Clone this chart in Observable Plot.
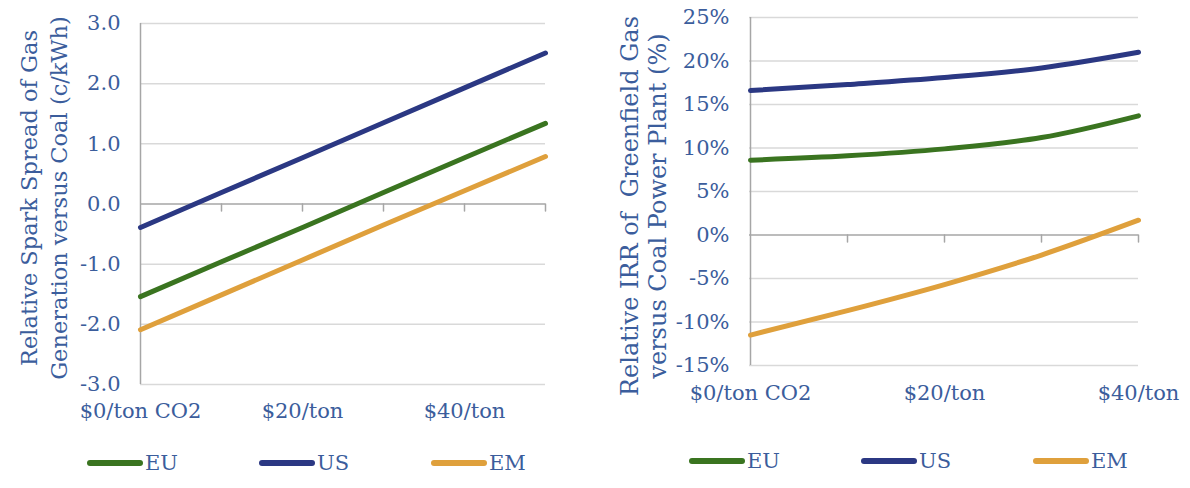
<!DOCTYPE html>
<html>
<head>
<meta charset="utf-8">
<script src="https://cdn.jsdelivr.net/npm/d3@7"></script>
<script src="https://cdn.jsdelivr.net/npm/@observablehq/plot@0.6"></script>
<style>
  html, body { margin: 0; padding: 0; background: #fff; }
  #wrap { position: relative; width: 1190px; height: 488px; font-family: "DejaVu Serif", serif; color: #3b5d9c; }
  .panel { position: absolute; top: 0; }
  .legend { position: absolute; display: flex; font-size: 21px; color: #3b5d9c; }
  .legend .item { display: flex; align-items: center; width: 172px; }
  .legend svg { margin-right: 1px; }
</style>
</head>
<body>
<div id="wrap"></div>
<script>
// Carbon price categories ($/ton CO2)
const sparkPrices = [0, 10, 20, 30, 40, 50];
const irrPrices = [0, 10, 20, 30, 40];

// Relative spark spread of gas vs coal (c/kWh)
const sparkEU = [-1.54, -0.96, -0.39, 0.19, 0.77, 1.34];
const sparkUS = [-0.39, 0.19, 0.77, 1.35, 1.93, 2.51];
const sparkEM = [-2.09, -1.51, -0.93, -0.35, 0.22, 0.79];

// Relative IRR of greenfield gas vs coal power plant (%)
const irrEU = [8.6, 9.1, 9.9, 11.2, 13.7];
const irrUS = [16.6, 17.3, 18.1, 19.2, 21.0];
const irrEM = [-11.5, -8.7, -5.7, -2.3, 1.7];

const seriesNames = ["EU", "US", "EM"];
const seriesColors = ["#3a7420", "#2b3883", "#dfa03c"];

const sparkTicks = [-3, -2, -1, 0, 1, 2, 3];
const irrTicks = [-15, -10, -5, 0, 5, 10, 15, 20, 25];
const xLabels = {0: "$0/ton CO2", 20: "$20/ton", 40: "$40/ton"};

const textColor = "#3b5d9c";
const gridColor = "#d9d9d9";
const axisColor = "#a6a6a6";
const fontFamily = "DejaVu Serif, serif";

function toRows(prices, arrays) {
  const rows = [];
  arrays.forEach((arr, i) => arr.forEach((v, j) => rows.push({series: seriesNames[i], price: prices[j], value: v})));
  return rows;
}

// short downward tick marks along the zero line
const downTick = {draw(context, l) { context.moveTo(0, 0); context.lineTo(0, l); }};

function titleText(svg, lines, xs, cy, size) {
  // rotated two-line axis title
  const ns = "http://www.w3.org/2000/svg";
  lines.forEach((t, i) => {
    const el = document.createElementNS(ns, "text");
    el.setAttribute("transform", `translate(${xs[i]},${cy}) rotate(-90)`);
    el.setAttribute("text-anchor", "middle");
    el.setAttribute("dominant-baseline", "middle");
    el.setAttribute("fill", textColor);
    el.setAttribute("font-size", size);
    el.setAttribute("font-family", fontFamily);
    el.textContent = t;
    svg.appendChild(el);
  });
}

function buildPanel(opts) {
  const height = 434;
  const svg = Plot.plot({
    width: 595,
    height,
    marginLeft: opts.marginLeft,
    marginRight: opts.marginRight,
    marginTop: opts.marginTop,
    marginBottom: height - opts.plotBottom,
    style: {fontFamily, fontSize: "21px", color: textColor, background: "white"},
    x: {type: "point", domain: opts.prices, padding: 0},
    y: {domain: opts.domain, ticks: opts.ticks},
    color: {domain: seriesNames, range: seriesColors},
    marks: [
      Plot.ruleY(opts.ticks.filter(t => t !== 0), {stroke: gridColor, strokeWidth: 1.5}),
      Plot.ruleY([0], {stroke: axisColor, strokeWidth: 1.5}),
      Plot.ruleX([opts.prices[0]], {stroke: axisColor, strokeWidth: 1.5}),
      Plot.vector(opts.prices.slice(1), {x: d => d, y: 0, length: 7, anchor: "start", shape: downTick, stroke: axisColor, strokeWidth: 1.5}),
      Plot.axisY({ticks: opts.ticks, tickSize: 0, tickPadding: 20, tickFormat: opts.fmt, fill: textColor, fontSize: 21, label: null}),
      Plot.axisX({ticks: Object.keys(xLabels).map(Number), tickSize: 0, tickPadding: opts.labelPad, tickFormat: d => xLabels[d], fill: textColor, fontSize: 21, label: null}),
      Plot.line(opts.rows, {x: "price", y: "value", z: "series", stroke: "series", strokeWidth: 5, curve: opts.curve})
    ]
  });
  titleText(svg, opts.titleLines, opts.titleXs, opts.titleY, opts.titleSize);
  return svg;
}

function legend(left, top) {
  const div = document.createElement("div");
  div.className = "legend";
  div.style.left = left + "px";
  div.style.top = top + "px";
  seriesNames.forEach((name, i) => {
    const item = document.createElement("div");
    item.className = "item";
    item.innerHTML = `<svg width="58" height="10"><line x1="4" y1="5" x2="54" y2="5" stroke="${seriesColors[i]}" stroke-width="6" stroke-linecap="round"/></svg><span>${name}</span>`;
    div.appendChild(item);
  });
  return div;
}

const wrap = document.getElementById("wrap");

const left = buildPanel({
  prices: sparkPrices,
  rows: toRows(sparkPrices, [sparkEU, sparkUS, sparkEM]),
  ticks: sparkTicks,
  domain: [-3, 3],
  fmt: d => d.toFixed(1),
  titleLines: ["Relative Spark Spread of Gas", "Generation versus Coal (c/kWh)"],
  titleXs: [31, 61],
  titleY: 198,
  titleSize: 22.5,
  marginLeft: 140,
  marginRight: 50,
  marginTop: 23,
  plotBottom: 384,
  labelPad: 19,
  curve: "linear"
});
left.classList.add("panel");
left.style.left = "0px";
wrap.appendChild(left);

const right = buildPanel({
  prices: irrPrices,
  rows: toRows(irrPrices, [irrEU, irrUS, irrEM]),
  ticks: irrTicks,
  domain: [-15, 25],
  fmt: d => d + "%",
  titleLines: ["Relative IRR of  Greenfield Gas", "versus Coal Power Plant (%)"],
  titleXs: [36, 64],
  titleY: 206,
  titleSize: 24,
  marginLeft: 154,
  marginRight: 52,
  marginTop: 17,
  plotBottom: 365,
  labelPad: 20,
  curve: "monotone-x"
});
right.classList.add("panel");
right.style.left = "595px";
wrap.appendChild(right);

wrap.appendChild(legend(86, 451));
wrap.appendChild(legend(688, 449));
</script>
</body>
</html>
